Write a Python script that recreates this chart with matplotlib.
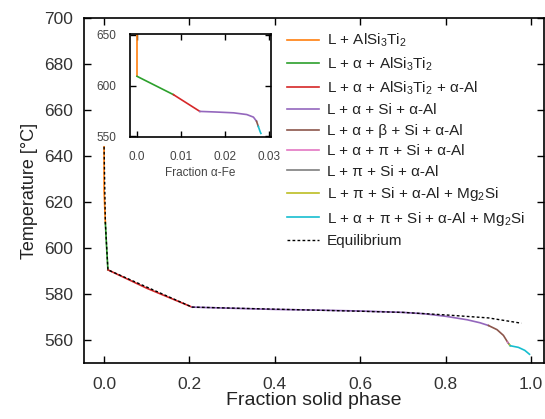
import matplotlib
matplotlib.use("Agg")
import matplotlib.pyplot as plt
from matplotlib.lines import Line2D

plt.rcParams['font.family'] = ['Liberation Sans', 'DejaVu Sans']
plt.rcParams['mathtext.default'] = 'regular'

# ---- data: main plot (fraction solid, temperature) ----
orange_fs = [0.0, 0.0, 0.003]
orange_T = [644.0, 625.0, 611.0]
green_fs = [0.003, 0.006, 0.009]
green_T = [611.0, 600.0, 590.5]
red_fs = [0.009, 0.1, 0.206]
red_T = [590.5, 582.5, 574.3]
purple_fs = [0.206, 0.3, 0.4, 0.5, 0.6, 0.7, 0.75, 0.8, 0.85, 0.88, 0.9]
purple_T = [574.3, 573.8, 573.3, 573.0, 572.6, 572.0, 571.4, 570.3, 568.8, 567.5, 566.3]
brown_fs = [0.9, 0.92, 0.935, 0.945]
brown_T = [566.3, 564.5, 562.0, 559.0]
pink_fs = [0.945, 0.947]
pink_T = [559.0, 558.5]
gray_fs = [0.947, 0.949]
gray_T = [558.5, 558.0]
olive_fs = [0.949, 0.951]
olive_T = [558.0, 557.5]
cyan_fs = [0.951, 0.97, 0.985, 0.996]
cyan_T = [557.5, 556.8, 555.5, 553.8]
eq_fs = [0.0, 0.003, 0.009, 0.206, 0.4, 0.6, 0.7, 0.8, 0.9, 0.977]
eq_T = [644.0, 611.0, 590.5, 574.3, 573.4, 572.5, 572.0, 570.9, 569.6, 567.3]

# ---- data: inset (fraction alpha-Fe, temperature) ----
in_orange_f = [0.0, 0.0]
in_orange_T = [650.0, 609.0]
in_green_f = [0.0, 0.0083]
in_green_T = [609.0, 591.0]
in_red_f = [0.0083, 0.0143]
in_red_T = [591.0, 574.6]
in_purple_f = [0.0143, 0.018, 0.022, 0.025, 0.0265, 0.0272]
in_purple_T = [574.6, 574.0, 573.2, 571.5, 569.0, 565.0]
in_brown_f = [0.0272, 0.0276]
in_brown_T = [565.0, 560.0]
in_cyan_f = [0.0276, 0.028, 0.0282]
in_cyan_T = [560.0, 555.0, 553.0]

labels = [
    'L + AlSi$_3$Ti$_2$',
    'L + α + AlSi$_3$Ti$_2$',
    'L + α + AlSi$_3$Ti$_2$ + α-Al',
    'L + α + Si + α-Al',
    'L + α + β + Si + α-Al',
    'L + α + π + Si + α-Al',
    'L + π + Si + α-Al',
    'L + π + Si + α-Al + Mg$_2$Si',
    'L + α + π + Si + α-Al + Mg$_2$Si',
    'Equilibrium',
]
colors = ['#ff7f0e', '#2ca02c', '#d62728', '#9467bd', '#8c564b',
          '#e377c2', '#7f7f7f', '#bcbd22', '#17becf']

x_ticks = [0.0, 0.2, 0.4, 0.6, 0.8, 1.0]
y_ticks = [560, 580, 600, 620, 640, 660, 680, 700]
in_x_ticks = [0.0, 0.01, 0.02, 0.03]
in_x_labels = ['0.0', '0.01', '0.02', '0.03']
in_y_ticks = [550, 600, 650]

fig = plt.figure(figsize=(5.45, 4.19), dpi=100)
ax = fig.add_axes([84/545, 1-363/419, 460/545, 345/419])

series = [(orange_fs, orange_T), (green_fs, green_T), (red_fs, red_T),
          (purple_fs, purple_T), (brown_fs, brown_T), (pink_fs, pink_T),
          (gray_fs, gray_T), (olive_fs, olive_T), (cyan_fs, cyan_T)]
for (xs, ys), c in zip(series, colors):
    ax.plot(xs, ys, color=c, lw=1.2)
ax.plot(eq_fs, eq_T, color='black', lw=1.0, ls=(0, (2, 1.6)))

ax.set_xlim(-0.047, 1.03)
ax.set_ylim(550, 700)
ax.set_xticks(x_ticks)
ax.set_xticklabels([f'{v:.1f}' for v in x_ticks])
ax.set_yticks(y_ticks)
ax.tick_params(direction='in', top=True, right=True, length=5, width=1,
               labelsize=12.5, color='black', labelcolor='#333333')
ax.tick_params(axis='x', pad=10)
ax.tick_params(axis='y', pad=8)
for s in ax.spines.values():
    s.set_linewidth(1.2)
ax.set_xlabel('Fraction solid phase', fontsize=14, labelpad=0, color='#222222')
ax.set_ylabel('Temperature [°C]', fontsize=13, labelpad=4, color='#222222')

# legend
handles = [Line2D([], [], color=c, lw=1.2) for c in colors]
handles.append(Line2D([], [], color='black', lw=1.0, ls=(0, (2, 1.6))))
fig.legend(handles, labels, loc='upper left',
           bbox_to_anchor=(287/545, 1-32/419), frameon=False,
           fontsize=11, handlelength=2.1, handletextpad=0.5,
           labelspacing=0.42, borderpad=0, borderaxespad=0,
           labelcolor='#222222')

# inset
ins = fig.add_axes([130/545, 1-137/419, 141/545, 103/419])
in_series = [(in_orange_f, in_orange_T, colors[0]), (in_green_f, in_green_T, colors[1]),
             (in_red_f, in_red_T, colors[2]), (in_purple_f, in_purple_T, colors[3]),
             (in_brown_f, in_brown_T, colors[4]), (in_cyan_f, in_cyan_T, colors[8])]
for xs, ys, c in in_series:
    ins.plot(xs, ys, color=c, lw=1.2)
ins.set_xlim(-0.0016, 0.0305)
ins.set_ylim(549.5, 650.5)
ins.set_xticks(in_x_ticks)
ins.set_xticklabels(in_x_labels)
ins.set_yticks(in_y_ticks)
ins.tick_params(direction='in', top=True, right=True, length=4, width=1,
                labelsize=8.5, labelcolor='#444444')
ins.tick_params(axis='x', pad=10)
ins.tick_params(axis='y', pad=10)
for s in ins.spines.values():
    s.set_linewidth(1.2)
ins.set_xlabel('Fraction α-Fe', fontsize=8.5, labelpad=3, color='#444444')

fig.savefig('out.png', dpi=100)
